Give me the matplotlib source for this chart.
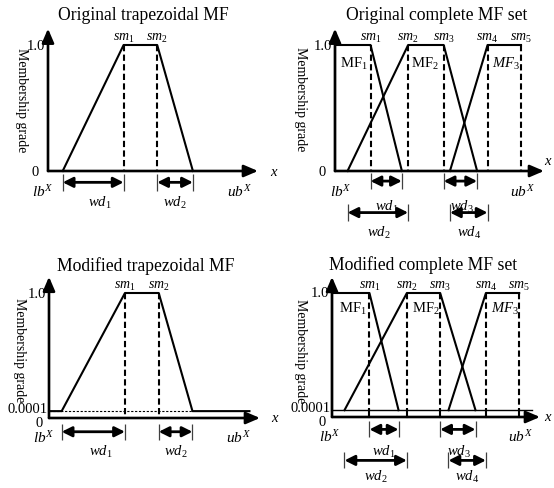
import matplotlib.pyplot as plt

plt.rcParams["font.family"] = "Liberation Serif"
plt.rcParams["mathtext.fontset"] = "custom"
plt.rcParams["mathtext.rm"] = "Liberation Serif"
plt.rcParams["mathtext.it"] = "Liberation Serif:italic"

W, H = 554, 489

# schematic x units: x axis runs 0..10, membership 0..1
trap_orig = [0.7, 3.6, 5.2, 6.9]          # a, b (sm1), c (sm2), d
trap_mod = [0.6, 3.6, 5.2, 6.8]
mod_tail_end = 9.5
eps_level = 0.055                          # drawn height of 0.0001 (exaggerated)

mf1 = [0.0, 1.7, 3.2]                      # flat to sm1, falls to 3.2
mf2 = [0.6, 3.5, 5.2, 6.8]
mf3 = [5.5, 7.3, 8.9]
mf1_mod = [0.0, 1.8, 3.2]
mf2_mod = [0.6, 3.6, 5.2, 6.9]
mf3_mod = [5.6, 7.4, 9.0]

titles = ["Original trapezoidal MF", "Original complete MF set",
          "Modified trapezoidal MF", "Modified complete MF set"]

fig = plt.figure(figsize=(W / 100, H / 100), dpi=100, facecolor="white")

LW = 1.5
AX_LW = 1.9


def panel(quad, origin, sx=21.0, sy=125.0):
    x0, y0, w, h = quad
    ax = fig.add_axes([x0 / W, 1 - (y0 + h) / H, w / W, h / H])
    ox, oy = origin
    ax.set_xlim((x0 - ox) / sx, (x0 + w - ox) / sx)
    ax.set_ylim((oy - y0 - h) / sy, (oy - y0) / sy)
    ax.axis("off")
    return ax


def draw_axes(ax, title, title_xy, ylab_x, ylab_y, x_lab_xy, ytop=1.13, xend=10.0):
    style = "-|>,head_length=0.7,head_width=0.3"
    ax.annotate("", xy=(0, ytop), xytext=(0, 0),
                arrowprops=dict(arrowstyle=style, lw=AX_LW, color="black",
                                mutation_scale=12, shrinkA=0, shrinkB=0))
    ax.annotate("", xy=(xend, 0), xytext=(0, 0),
                arrowprops=dict(arrowstyle=style, lw=AX_LW, color="black",
                                mutation_scale=12, shrinkA=0, shrinkB=0))
    ax.text(*title_xy, title, ha="center", va="center", fontsize=12.7)
    ax.text(ylab_x, ylab_y, "Membership grade", rotation=-90,
            ha="center", va="center", fontsize=10)
    ax.text(*x_lab_xy, "$x$", ha="left", va="center", fontsize=10.5)
    ax.text(-0.15, 1.0, "1.0", ha="right", va="center", fontsize=10.5)


def dashed(ax, xs, bottom=0.0):
    for x in xs:
        ax.plot([x, x], [1.0, bottom], color="black", lw=LW,
                dashes=(3.0, 1.6), solid_capstyle="butt")
        if bottom > 0:
            ax.plot([x, x], [bottom, 0], color="black", lw=LW)


def dim(ax, x1, x2, y, label, lx, ly, bar=0.065):
    ax.vlines([x1, x2], y - bar, y + bar, color="0.25", lw=0.9)
    ax.annotate("", xy=(x2, y), xytext=(x1, y),
                arrowprops=dict(arrowstyle="<|-|>,head_length=0.6,head_width=0.3",
                                lw=2.0, color="black", mutation_scale=10,
                                shrinkA=0, shrinkB=0))
    ax.text(lx, ly, label, ha="center", va="center", fontsize=10.5)


def sm_labels(ax, xs):
    for i, x in enumerate(xs):
        ax.text(x, 1.005, f"$sm_{i + 1}$", ha="center", va="bottom", fontsize=10)


# ---- top-left: original trapezoid
ax1 = panel((0, 0, 277, 245), (48, 172), sy=126)
draw_axes(ax1, titles[0], (4.52, 1.245), -1.24, 0.57, (10.55, 0.0))
a, b, c, d = trap_orig
ax1.plot([a, b, c, d], [0, 1, 1, 0], color="black", lw=LW)
dashed(ax1, [b, c])
sm_labels(ax1, [b, c])
ax1.text(-0.45, 0.0, "0", ha="right", va="center", fontsize=10.5)
ax1.text(-0.24, -0.16, "$lb^X$", ha="center", va="center", fontsize=11)
ax1.text(9.1, -0.16, "$ub^X$", ha="center", va="center", fontsize=11)
dim(ax1, a, b, -0.09, "$wd_1$", 2.45, -0.245)
dim(ax1, c, d, -0.09, "$wd_2$", 6.05, -0.245)

# ---- top-right: original complete set
ax2 = panel((277, 0, 277, 245), (335, 172), sx=20.9, sy=126)
draw_axes(ax2, titles[1], (4.86, 1.245), -1.67, 0.58, (9.98, 0.08))
ax2.plot([mf1[0], mf1[0], mf1[1], mf1[2]], [0, 1, 1, 0], color="black", lw=LW)
ax2.plot(mf2, [0, 1, 1, 0], color="black", lw=LW)
ax2.plot(mf3, [0, 1, 1], color="black", lw=LW)
sm2 = [mf1[1], mf2[1], mf2[2], mf3[1], mf3[2]]
dashed(ax2, sm2)
sm_labels(ax2, sm2)
ax2.text(-0.45, 0.0, "0", ha="right", va="center", fontsize=10.5)
ax2.text(0.3, -0.16, "$lb^X$", ha="center", va="center", fontsize=11)
ax2.text(8.95, -0.16, "$ub^X$", ha="center", va="center", fontsize=11)
ax2.text(0.9, 0.86, r"$\mathrm{MF}_1$", ha="center", va="center", fontsize=10.5)
ax2.text(4.3, 0.86, r"$\mathrm{MF}_2$", ha="center", va="center", fontsize=10.5)
ax2.text(8.2, 0.86, r"$MF_3$", ha="center", va="center", fontsize=10.5)
dim(ax2, mf1[1], mf1[2], -0.08, "$wd_1$", 2.5, -0.28)
dim(ax2, mf2[2], mf2[3], -0.08, "$wd_3$", 6.05, -0.28)
dim(ax2, mf2[0], mf2[1], -0.33, "$wd_2$", 2.1, -0.48)
dim(ax2, mf3[0], mf3[1], -0.33, "$wd_4$", 6.4, -0.48)

# ---- bottom-left: modified trapezoid
ax3 = panel((0, 245, 277, 244), (49, 419), sx=21.1, sy=125)
draw_axes(ax3, titles[2], (4.6, 1.225), -1.38, 0.55, (10.5, 0.0))
a, b, c, d = trap_mod
ax3.plot([0, a, b, c, d, mod_tail_end], [eps_level, eps_level, 1, 1, eps_level, eps_level],
         color="black", lw=LW)
ax3.plot([0, d], [eps_level, eps_level], color="black", lw=0.8, ls=(0, (2, 1.5)))
dashed(ax3, [b, c])
sm_labels(ax3, [b, c])
ax3.text(-0.05, eps_level + 0.02, "0.0001", ha="right", va="center", fontsize=10.5)
ax3.text(-0.3, -0.035, "0", ha="right", va="center", fontsize=10.5)
ax3.text(-0.24, -0.15, "$lb^X$", ha="center", va="center", fontsize=11)
ax3.text(9.0, -0.15, "$ub^X$", ha="center", va="center", fontsize=11)
dim(ax3, a, b, -0.11, "$wd_1$", 2.45, -0.265)
dim(ax3, c, d, -0.11, "$wd_2$", 6.0, -0.265)

# ---- bottom-right: modified complete set
ax4 = panel((277, 245, 277, 244), (332, 418), sx=20.8, sy=124)
draw_axes(ax4, titles[3], (4.4, 1.235), -1.52, 0.54, (10.2, 0.0))
ax4.plot([0, mod_tail_end + 0.1], [eps_level, eps_level], color="black", lw=1.0)
ax4.plot([mf1_mod[0], mf1_mod[0], mf1_mod[1], mf1_mod[2]], [eps_level, 1, 1, eps_level],
         color="black", lw=LW)
ax4.plot(mf2_mod, [eps_level, 1, 1, eps_level], color="black", lw=LW)
ax4.plot(mf3_mod, [eps_level, 1, 1], color="black", lw=LW)
sm4 = [mf1_mod[1], mf2_mod[1], mf2_mod[2], mf3_mod[1], mf3_mod[2]]
dashed(ax4, sm4, bottom=eps_level)
sm_labels(ax4, sm4)
ax4.text(-0.05, eps_level + 0.02, "0.0001", ha="right", va="center", fontsize=10.5)
ax4.text(-0.3, -0.035, "0", ha="right", va="center", fontsize=10.5)
ax4.text(-0.1, -0.15, "$lb^X$", ha="center", va="center", fontsize=11)
ax4.text(9.05, -0.15, "$ub^X$", ha="center", va="center", fontsize=11)
ax4.text(1.0, 0.88, r"$\mathrm{MF}_1$", ha="center", va="center", fontsize=10.5)
ax4.text(4.5, 0.88, r"$\mathrm{MF}_2$", ha="center", va="center", fontsize=10.5)
ax4.text(8.3, 0.88, r"$MF_3$", ha="center", va="center", fontsize=10.5)
dim(ax4, mf1_mod[1], mf1_mod[2], -0.10, "$wd_1$", 2.5, -0.27)
dim(ax4, mf2_mod[2], mf2_mod[3], -0.10, "$wd_3$", 6.1, -0.27)
dim(ax4, mf2_mod[0], mf2_mod[1], -0.35, "$wd_2$", 2.1, -0.475)
dim(ax4, mf3_mod[0], mf3_mod[1], -0.35, "$wd_4$", 6.5, -0.475)

fig.savefig("out.png", dpi=100, facecolor="white")
